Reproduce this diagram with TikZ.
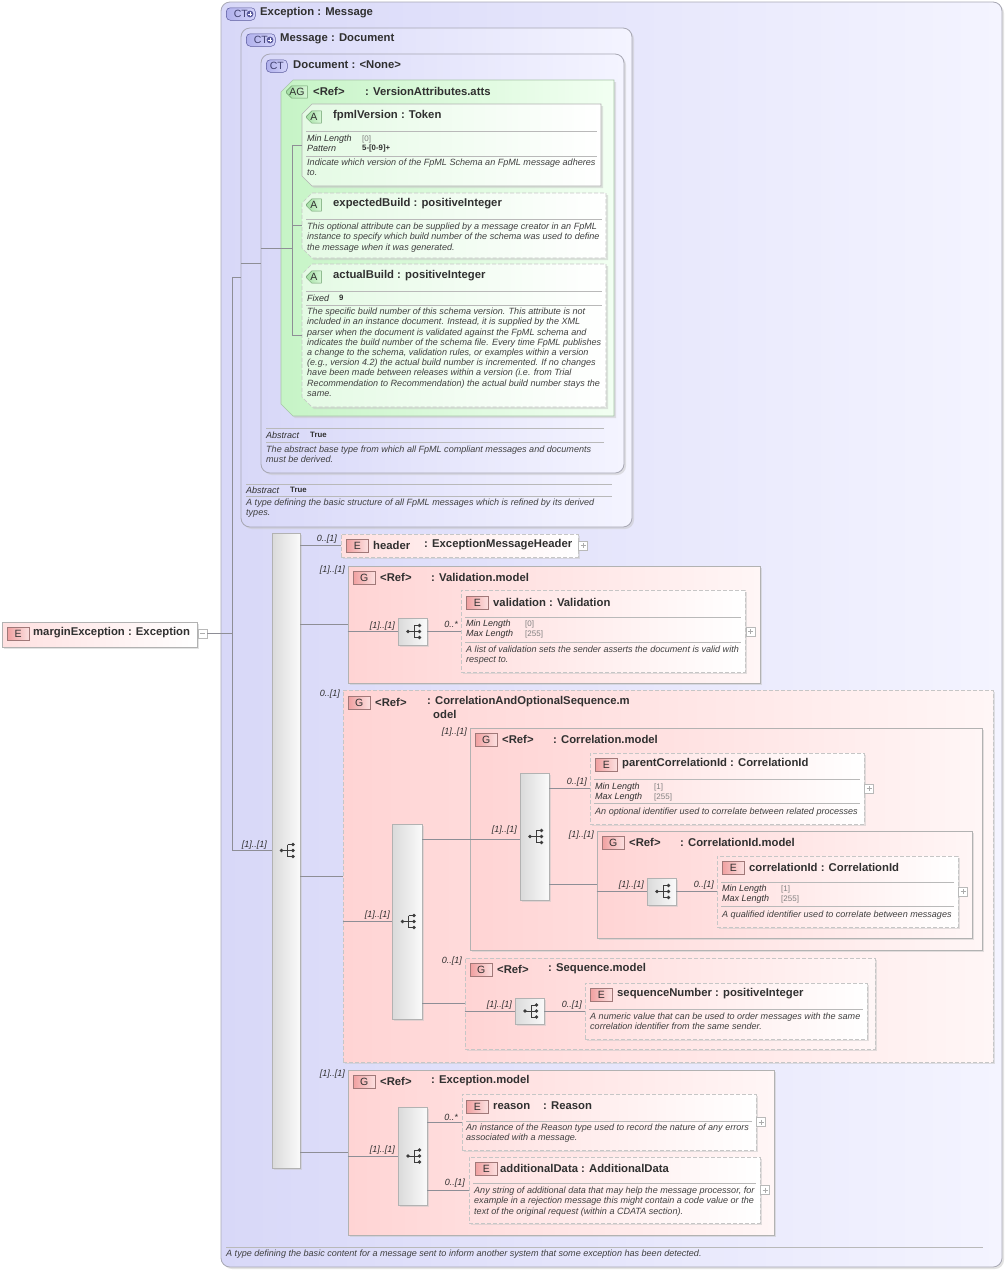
\documentclass[tikz,border=0pt]{standalone}
\usepackage{fontspec}
\setmainfont{Liberation Sans}
\usetikzlibrary{fit,shadows,shapes.misc}

\definecolor{lnC}{HTML}{A8A8B4}
\definecolor{ctL}{HTML}{D8D8F8}
\definecolor{ctR}{HTML}{F4F4FF}
\definecolor{ctD}{HTML}{5A5A9C}
\definecolor{cbL}{HTML}{B0B0EC}
\definecolor{cbR}{HTML}{D4D4FA}
\definecolor{agL}{HTML}{C6F4C6}
\definecolor{agR}{HTML}{F2FFF2}
\definecolor{agD}{HTML}{6E9E6E}
\definecolor{abL}{HTML}{A4DEA4}
\definecolor{abR}{HTML}{D6F6D6}
\definecolor{atL}{HTML}{E4FAE4}
\definecolor{grL}{HTML}{FFD4D4}
\definecolor{grR}{HTML}{FFF6F6}
\definecolor{elL}{HTML}{FFE0E0}
\definecolor{bdL}{HTML}{F0A0A0}
\definecolor{bdR}{HTML}{FCE0E0}
\definecolor{bdD}{HTML}{A07878}
\definecolor{brL}{HTML}{DADADA}
\definecolor{brR}{HTML}{FAFAFA}
\definecolor{txC}{HTML}{303030}
\definecolor{dsC}{HTML}{404040}
\definecolor{cnC}{HTML}{8E8E96}
\definecolor{icC}{HTML}{3C3C3C}

\tikzset{
  shd/.style={drop shadow={shadow xshift=2pt, shadow yshift=-2pt, fill=black!22}},
  ctbox/.style={draw=lnC, line width=0.8pt, rounded corners=9pt, left color=ctL, right color=ctR, inner sep=0pt, shd},
  agbox/.style={draw=agD!60, line width=0.6pt, chamfered rectangle, chamfered rectangle corners={north west,south west}, chamfered rectangle xsep=6pt, chamfered rectangle ysep=6pt, left color=agL, right color=agR, inner sep=0pt, shd},
  atbox/.style={draw=gray!60, line width=0.6pt, chamfered rectangle, chamfered rectangle corners={north west,south west}, chamfered rectangle xsep=5pt, chamfered rectangle ysep=5pt, left color=atL, right color=white, inner sep=0pt, shd},
  grbox/.style={draw=gray!60, line width=0.6pt, left color=grL, right color=grR, inner sep=0pt, shd},
  elbox/.style={draw=gray!60, line width=0.6pt, left color=elL, right color=white, inner sep=0pt, shd},
  opt/.style={dash pattern=on 4pt off 2pt, draw=gray!45},
  seqbar/.style={draw=gray!60, line width=0.6pt, left color=brL, right color=brR, inner sep=0pt, shd},
  ebdg/.style={draw=bdD, line width=0.5pt, left color=bdL, right color=bdR, minimum width=22pt, minimum height=13pt, inner sep=0pt, font=\fontsize{10.5}{11}\selectfont, text=txC, anchor=west},
  abdg/.style={draw=agD, line width=0.5pt, chamfered rectangle, chamfered rectangle corners={north west,south west}, chamfered rectangle xsep=3pt, chamfered rectangle ysep=2.5pt, left color=abL, right color=abR, minimum width=15pt, minimum height=6pt, inner sep=0pt, font=\fontsize{10.5}{11}\selectfont, text=txC, anchor=west},
  ctbdg/.style={draw=ctD, line width=0.5pt, rounded corners=4pt, left color=cbL, right color=cbR, minimum height=12.5pt, inner sep=0pt, font=\fontsize{10.5}{11}\selectfont, text=ctD!70!black, anchor=west},
  pls/.style={draw=gray!55, fill=white, minimum size=9pt, inner sep=0pt, path picture={\draw[gray!65] ([xshift=2pt]path picture bounding box.west) -- ([xshift=-2pt]path picture bounding box.east) ([yshift=-2pt]path picture bounding box.north) -- ([yshift=2pt]path picture bounding box.south);}},
  mns/.style={draw=gray!55, fill=white, minimum size=9pt, inner sep=0pt, path picture={\draw[gray!65] ([xshift=2pt]path picture bounding box.west) -- ([xshift=-2pt]path picture bounding box.east);}},
  ttl/.style={font=\bfseries\fontsize{11.3}{13}\selectfont, text=txC, inner sep=0pt, anchor=west},
  dsc/.style={font=\itshape\fontsize{9.05}{10.2}\selectfont, text=dsC, inner sep=0pt, anchor=north west, align=left},
  prp/.style={font=\itshape\fontsize{9}{10}\selectfont, text=txC, inner sep=0pt, anchor=west},
  val/.style={font=\fontsize{8}{9}\selectfont, text=gray, inner sep=0pt, anchor=west},
  bval/.style={font=\bfseries\fontsize{7.8}{9}\selectfont, text=txC, inner sep=0pt, anchor=west},
  card/.style={font=\itshape\fontsize{9}{10}\selectfont, text=txC, inner sep=0pt, anchor=east},
  sep/.style={draw=gray!55, line width=0.6pt},
  cn/.style={draw=cnC, line width=0.6pt},
  seqicon/.pic={
    \draw[icC, line width=0.6pt] (-4.5,0) -- (1.5,0) (1.5,-6) -- (1.5,6) (1.5,-6) -- (7,-6) (1.5,6) -- (7,6) (1.5,0) -- (7,0);
    \fill[icC] (-4.5,0) circle (1.9) (7,-6) circle (1.9) (7,0) circle (1.9) (7,6) circle (1.9);
  }
}

\begin{document}
\begin{tikzpicture}[x=1pt,y=-1pt]
  \useasboundingbox (0,0) rectangle (1007,1270);

  \node[ctbox, fit={(221,2) (1002,1267)}] (exc) {};
  \node[ctbdg, minimum width=29pt] (excb) at (226,14) {CT\hspace{8pt}};
  \fill[ctD] (250,14) circle (3.4);
  \draw[white, line width=1pt] (247.8,14) -- (252.2,14) (250,11.8) -- (250,16.2);
  \node[ttl] (exct) at (260,13) {Exception : Message};
  \draw[sep] (226,1247) -- (983,1247);
  \node[dsc, anchor=west] (excd) at (226,1254) {A type defining the basic content for a message sent to inform another system that some exception has been detected.};

  \node[ctbox, fit={(241,28) (632,527)}] (msg) {};
  \node[ctbdg, minimum width=29pt] (msgb) at (246,40) {CT\hspace{8pt}};
  \fill[ctD] (270,40) circle (3.4);
  \draw[white, line width=1pt] (267.8,40) -- (272.2,40) (270,37.8) -- (270,42.2);
  \node[ttl] (msgt) at (280,39) {Message : Document};
  \draw[sep] (246,484) -- (612,484);
  \node[prp] (msga) at (246,490) {Abstract};
  \node[bval] (msgv) at (290,490) {True};
  \draw[sep] (246,496) -- (612,496);
  \node[dsc] (msgd) at (246,499) {A type defining the basic structure of all FpML messages which is refined by its derived\\types.};

  \node[ctbox, fit={(261,54) (624,473)}] (doc) {};
  \node[ctbdg, minimum width=21pt] (docb) at (266,66) {CT};
  \node[ttl] (doct) at (293,65) {Document : <None>};
  \draw[sep] (266,428) -- (604,428);
  \node[prp] (doca) at (266,435) {Abstract};
  \node[bval] (docv) at (310,435) {True};
  \draw[sep] (266,442) -- (604,442);
  \node[dsc] (docd) at (266,446) {The abstract base type from which all FpML compliant messages and documents\\must be derived.};

  \node[agbox, fit={(287,86) (608,410)}] (ag) {};
  \node[abdg] (agb) at (286,92) {AG};
  \node[ttl] (agt) at (313,91) {<Ref>};
  \node[ttl] (agn) at (365,91) {: VersionAttributes.atts};

  \node[atbox, fit={(307,109) (596,181)}] (a1) {};
  \node[abdg] (a1b) at (306,117) {A};
  \node[ttl] (a1t) at (333,116) {fpmlVersion : Token};
  \draw[sep] (306,131) -- (597,131);
  \node[prp] (a1p) at (307,139) {Min Length};
  \node[val] (a1v) at (362,139) {[0]};
  \node[prp] (a1q) at (307,148) {Pattern};
  \node[bval] (a1w) at (362,148) {5-[0-9]+};
  \draw[sep] (306,156) -- (597,156);
  \node[dsc] (a1d) at (307,159) {Indicate which version of the FpML Schema an FpML message adheres\\to.};

  \node[atbox, opt, fit={(307,198) (601,253)}] (a2) {};
  \node[abdg] (a2b) at (306,205) {A};
  \node[ttl] (a2t) at (333,204) {expectedBuild : positiveInteger};
  \draw[sep] (306,219) -- (602,219);
  \node[dsc] (a2d) at (307,223) {This optional attribute can be supplied by a message creator in an FpML\\instance to specify which build number of the schema was used to define\\the message when it was generated.};

  \node[atbox, opt, fit={(307,269) (601,402)}] (a3) {};
  \node[abdg] (a3b) at (306,277) {A};
  \node[ttl] (a3t) at (333,276) {actualBuild : positiveInteger};
  \draw[sep] (306,291) -- (602,291);
  \node[prp] (a3p) at (307,298) {Fixed};
  \node[bval] (a3v) at (339,298) {9};
  \draw[sep] (306,305) -- (602,305);
  \node[dsc] (a3d) at (307,308) {The specific build number of this schema version. This attribute is not\\included in an instance document. Instead, it is supplied by the XML\\parser when the document is validated against the FpML schema and\\indicates the build number of the schema file. Every time FpML publishes\\a change to the schema, validation rules, or examples within a version\\(e.g., version 4.2) the actual build number is incremented. If no changes\\have been made between releases within a version (i.e. from Trial\\Recommendation to Recommendation) the actual build number stays the\\same.};

  \node[elbox, fit={(2,622) (197,647)}] (mx) {};
  \node[ebdg] (mxb) at (7,634) {E};
  \node[ttl] (mxt) at (33,633) {marginException : Exception};
  \node[mns] (mxm) at (202.5,633.5) {};

  \node[seqbar, fit={(272,533) (300,1168)}] (bar) {};
  \pic at (bar.center) {seqicon};
  \node[card] (barc) at (267,845) {[1]..[1]};

  \node[elbox, opt, fit={(341,534) (578,557)}] (hdr) {};
  \node[ebdg] (hdrb) at (346,545.5) {E};
  \node[ttl] (hdrt) at (373,545) {header};
  \node[ttl] (hdrn) at (424,545) {: ExceptionMessageHeader};
  \node[pls] (hdrp) at (583,545.5) {};
  \node[card] (hdrc) at (337,539) {0..[1]};

  \node[grbox, fit={(348,566) (760,683)}] (vm) {};
  \node[ebdg] (vmb) at (353,577.5) {G};
  \node[ttl] (vmt) at (380,577) {<Ref>};
  \node[ttl] (vmn) at (431,577) {: Validation.model};
  \node[card] (vmc) at (345,570) {[1]..[1]};
  \node[seqbar, fit={(398,618) (427,645)}] (vi) {};
  \pic at (vi.center) {seqicon};
  \node[card] (vic) at (395,626) {[1]..[1]};
  \node[elbox, opt, fit={(461,590) (745,672)}] (vel) {};
  \node[ebdg] (velb) at (466,603) {E};
  \node[ttl] (velt) at (493,602) {validation : Validation};
  \draw[sep] (465,617) -- (741,617);
  \node[prp] (velp1) at (466,624) {Min Length};
  \node[val] (velv1) at (525,624) {[0]};
  \node[prp] (velp2) at (466,634) {Max Length};
  \node[val] (velv2) at (525,634) {[255]};
  \draw[sep] (465,642) -- (741,642);
  \node[dsc] (veld) at (466,646) {A list of validation sets the sender asserts the document is valid with\\respect to.};
  \node[pls] (velp) at (750.5,631.5) {};
  \node[card] (velc) at (458,624) {0..*};

  \node[grbox, opt, fit={(343,690) (993,1062)}] (cs) {};
  \node[ebdg] (csb0) at (348,703) {G};
  \node[ttl] (cst) at (375,702) {<Ref>};
  \node[ttl] (csn) at (427,702) {: CorrelationAndOptionalSequence.m};
  \node[ttl] (csn2) at (433,714) {odel};
  \node[card] (csc) at (340,694) {0..[1]};
  \node[seqbar, fit={(392,824) (422,1019)}] (csb) {};
  \pic at (csb.center) {seqicon};
  \node[card] (csbc) at (390,915) {[1]..[1]};

  \node[grbox, fit={(470,728) (982,950)}] (cm) {};
  \node[ebdg] (cmb0) at (475,740) {G};
  \node[ttl] (cmt) at (502,739) {<Ref>};
  \node[ttl] (cmn) at (553,739) {: Correlation.model};
  \node[card] (cmc) at (467,732) {[1]..[1]};
  \node[seqbar, fit={(520,773) (549,900)}] (cmb) {};
  \pic at (cmb.center) {seqicon};
  \node[card] (cmbc) at (517,830) {[1]..[1]};

  \node[elbox, opt, fit={(590,753) (864,824)}] (pci) {};
  \node[ebdg] (pcib) at (595,764.5) {E};
  \node[ttl] (pcit) at (622,764) {parentCorrelationId : CorrelationId};
  \draw[sep] (594,779) -- (860,779);
  \node[prp] (pcip1) at (595,787) {Min Length};
  \node[val] (pciv1) at (654,787) {[1]};
  \node[prp] (pcip2) at (595,797) {Max Length};
  \node[val] (pciv2) at (654,797) {[255]};
  \draw[sep] (594,803) -- (860,803);
  \node[dsc, anchor=west] (pcid) at (595,812) {An optional identifier used to correlate between related processes};
  \node[pls] (pcip) at (869,788.5) {};
  \node[card] (pcic) at (587,782) {0..[1]};

  \node[grbox, fit={(597,831) (972,938)}] (cim) {};
  \node[ebdg] (cimb) at (602,842.5) {G};
  \node[ttl] (cimt) at (629,842) {<Ref>};
  \node[ttl] (cimn) at (680,842) {: CorrelationId.model};
  \node[card] (cimc) at (594,835) {[1]..[1]};
  \node[seqbar, fit={(647,878) (676,905)}] (cii) {};
  \pic at (cii.center) {seqicon};
  \node[card] (ciic) at (644,885) {[1]..[1]};
  \node[elbox, opt, fit={(717,856) (958,927)}] (cid) {};
  \node[ebdg] (cidb) at (722,867.5) {E};
  \node[ttl] (cidt) at (749,867) {correlationId : CorrelationId};
  \draw[sep] (721,882) -- (954,882);
  \node[prp] (cidp1) at (722,889) {Min Length};
  \node[val] (cidv1) at (781,889) {[1]};
  \node[prp] (cidp2) at (722,899) {Max Length};
  \node[val] (cidv2) at (781,899) {[255]};
  \draw[sep] (721,906) -- (954,906);
  \node[dsc, anchor=west] (cidd) at (722,915) {A qualified identifier used to correlate between messages};
  \node[pls] (cidp) at (963,891.5) {};
  \node[card] (cidc) at (714,885) {0..[1]};

  \node[grbox, opt, fit={(465,958) (875,1049)}] (sm) {};
  \node[ebdg] (smb) at (470,970) {G};
  \node[ttl] (smt) at (497,969) {<Ref>};
  \node[ttl] (smn) at (548,969) {: Sequence.model};
  \node[card] (smc) at (462,961) {0..[1]};
  \node[seqbar, fit={(515,998) (544,1024)}] (smi) {};
  \pic at (smi.center) {seqicon};
  \node[card] (smic) at (512,1005) {[1]..[1]};
  \node[elbox, opt, fit={(585,983) (867,1039)}] (sn) {};
  \node[ebdg] (snb) at (590,994.5) {E};
  \node[ttl] (snt) at (617,994) {sequenceNumber : positiveInteger};
  \draw[sep] (589,1009) -- (863,1009);
  \node[dsc] (snd) at (590,1013) {A numeric value that can be used to order messages with the same\\correlation identifier from the same sender.};
  \node[card] (snc) at (582,1005) {0..[1]};

  \node[grbox, fit={(348,1070) (774,1235)}] (em) {};
  \node[ebdg] (emb0) at (353,1082) {G};
  \node[ttl] (emt) at (380,1081) {<Ref>};
  \node[ttl] (emn) at (431,1081) {: Exception.model};
  \node[card] (emc) at (345,1074) {[1]..[1]};
  \node[seqbar, fit={(398,1107) (427,1205)}] (emb) {};
  \pic at (emb.center) {seqicon};
  \node[card] (embc) at (395,1150) {[1]..[1]};

  \node[elbox, opt, fit={(462,1094) (756,1150)}] (rsn) {};
  \node[ebdg] (rsnb) at (466,1106.5) {E};
  \node[ttl] (rsnt) at (493,1106) {reason};
  \node[ttl] (rsnn) at (543,1106) {: Reason};
  \draw[sep] (466,1121) -- (752,1121);
  \node[dsc] (rsnd) at (466,1124) {An instance of the Reason type used to record the nature of any errors\\associated with a message.};
  \node[pls] (rsnp) at (761,1122) {};
  \node[card] (rsnc) at (458,1117) {0..*};

  \node[elbox, opt, fit={(469,1157) (760,1223)}] (add) {};
  \node[ebdg] (addb) at (475,1168.5) {E};
  \node[ttl] (addt) at (500,1168) {additionalData : AdditionalData};
  \draw[sep] (473,1183) -- (756,1183);
  \node[dsc] (addd) at (474,1187) {Any string of additional data that may help the message processor, for\\example in a rejection message this might contain a code value or the\\text of the original request (within a CDATA section).};
  \node[pls] (addp) at (765,1190) {};
  \node[card] (addc) at (465,1183) {0..[1]};

  \coordinate (j) at (232,633);
  \coordinate (ja) at (292,248);
  \draw[cn] (mxm.east) -- (mxm.east -| j);
  \draw[cn] (j |- msg.west) -- (j |- bar.west);
  \draw[cn] (j |- msg.west) -- (msg.west);
  \draw[cn] (j |- bar.west) -- (bar.west);
  \draw[cn] (msg.west |- doc.west) -- (doc.west);
  \draw[cn] (doc.west |- ag.west) -- (ja |- ag.west);
  \draw[cn] (ja |- a1.west) -- (ja |- a3.west);
  \draw[cn] (ja |- a1.west) -- (a1.west);
  \draw[cn] (ja |- a2.west) -- (a2.west);
  \draw[cn] (ja |- a3.west) -- (a3.west);
  \draw[cn] (bar.east |- hdr.west) -- (hdr.west);
  \draw[cn] (bar.east |- vm.west) -- (vm.west);
  \draw[cn] (bar.east |- cs.west) -- (cs.west);
  \draw[cn] (bar.east |- em.west) -- (em.west);
  \draw[cn] (vm.west |- vi.west) -- (vi.west);
  \draw[cn] (vi.east) -- (vi.east -| vel.west);
  \draw[cn] (cs.west |- csb.west) -- (csb.west);
  \draw[cn] (csb.east |- cm.west) -- (cm.west);
  \draw[cn] (csb.east |- sm.west) -- (sm.west);
  \draw[cn] (cm.west) -- (cm.west -| cmb.west);
  \draw[cn] (cmb.east |- pci.west) -- (pci.west);
  \draw[cn] (cmb.east |- cim.west) -- (cim.west);
  \draw[cn] (cim.west |- cii.west) -- (cii.west);
  \draw[cn] (cii.east) -- (cii.east -| cid.west);
  \draw[cn] (sm.west |- smi.west) -- (smi.west);
  \draw[cn] (smi.east) -- (smi.east -| sn.west);
  \draw[cn] (em.west |- emb.west) -- (emb.west);
  \draw[cn] (emb.east |- rsn.west) -- (rsn.west);
  \draw[cn] (emb.east |- add.west) -- (add.west);
\end{tikzpicture}
\end{document}
